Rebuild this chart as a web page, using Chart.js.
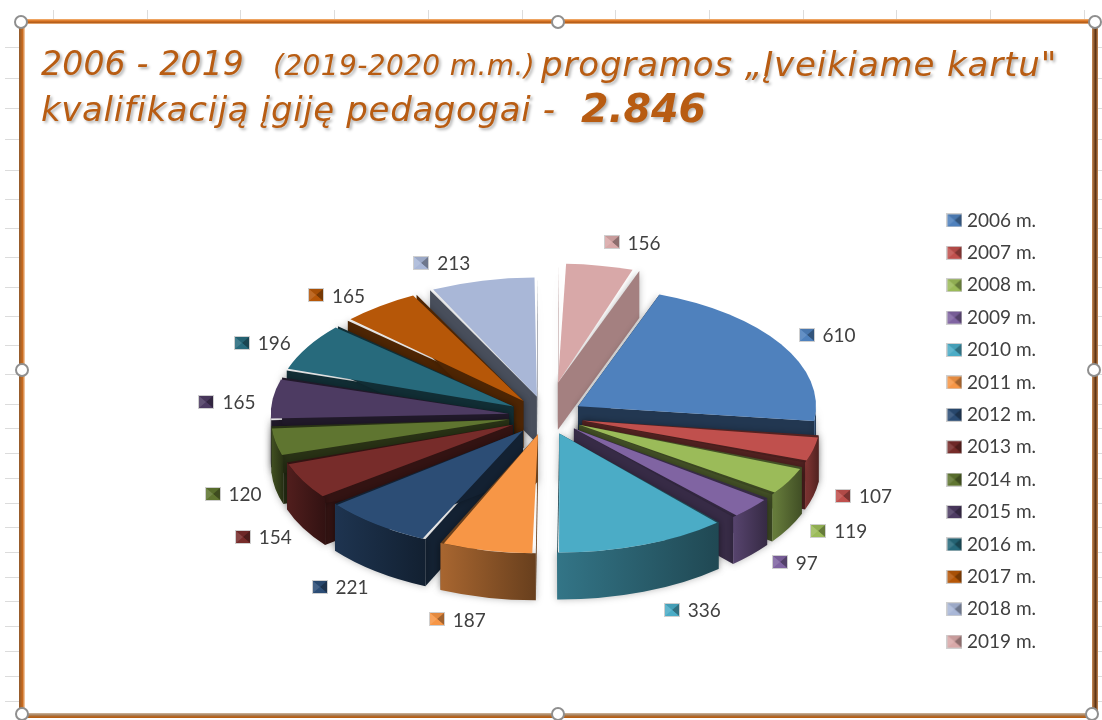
<!DOCTYPE html>
<html><head><meta charset="utf-8">
<style>
html,body{margin:0;padding:0;background:#fff;width:1102px;height:720px;overflow:hidden}
#stage{position:relative;width:1102px;height:720px;overflow:hidden}
canvas{position:absolute;left:0;top:0}
.t{position:absolute;white-space:pre;font-family:"DejaVu Sans";font-style:italic;color:#b85c12;text-shadow:2px 2px 3px rgba(0,0,0,.3);line-height:1}
.tick{position:absolute;background:#dcdcdc}
.edge{position:absolute}
.h{position:absolute;width:10px;height:10px;border:2.5px solid #8f8f8f;border-radius:50%;background:#fff}
</style></head><body>
<div id="stage">
<canvas id="c" width="1102" height="720"></canvas>
<div class="t" style="left:41px;top:47px;font-size:33px;letter-spacing:.2px">2006 - 2019</div>
<div class="t" style="left:273px;top:52px;font-size:28px;letter-spacing:.4px">(2019-2020 m.m.)</div>
<div class="t" style="left:541px;top:47px;font-size:34px;letter-spacing:.85px">programos „Įveikiame kartu"</div>
<div class="t" style="left:41px;top:92px;font-size:34px;letter-spacing:.65px">kvalifikaciją įgiję pedagogai -</div>
<div class="t" style="left:581px;top:89px;font-size:39.5px;font-weight:bold">2.846</div>
</div>
<script src="https://cdn.jsdelivr.net/npm/chart.js@4"></script>
<script>
const categories=["2006 m.","2007 m.","2008 m.","2009 m.","2010 m.","2011 m.","2012 m.","2013 m.","2014 m.","2015 m.","2016 m.","2017 m.","2018 m.","2019 m."];
const values=[610,107,119,97,336,187,221,154,120,165,196,165,213,156];
const colours=["#4f81bd","#c0504d","#9bbb59","#8064a2","#4bacc6","#f79646","#2c4d75","#772c2a","#5f7530","#4d3b62","#276a7c","#b65708","#a9b7d7","#d8a8a8"];
const explode=[150,150,150,150,150,150,150,150,150,150,150,150,160,270];
const labelNudge=[[-4,0],[-4,-4],[-1,-5],[3,-4],[16,2],[-43,5],[-35,2],[-30,1],[-29,2],[-32,5],[-36,5],[-43,3],[-54,-2],[11,-21]];

const stage=document.getElementById('stage');
function box(cls,css){const d=document.createElement('div');d.className=cls;d.style.cssText=css;stage.appendChild(d);}
for(let x=53;x<1090;x+=93.7)box('tick',`left:${Math.round(x)}px;top:10px;width:1px;height:10px`);
const rows=[47,78,108,139,170,199,228,257,287,316,345,374,404,428,453,478,503,527,552,577,601,626,651,676,701];
rows.forEach(y=>{box('tick',`left:5px;top:${y}px;width:14px;height:1px`);box('tick',`left:1096px;top:${y}px;width:6px;height:1px`);});
box('edge','left:20px;top:19px;width:1074px;height:5px;background:linear-gradient(#f5b679,#d9701c 40%,#b4601f 70%,#f7c08c)');
box('edge','left:19px;top:713px;width:1074px;height:5px;background:linear-gradient(#d0b8a0,#a8835f 40%,#b65e14 80%)');
box('edge','left:19px;top:22px;width:6px;height:692px;background:linear-gradient(90deg,#8f5a2e,#c86a1e 60%,#fbd9b8)');
box('edge','left:1092px;top:22px;width:6px;height:692px;background:linear-gradient(90deg,#c98a55,#5c3212 60%,#c98a55)');
[[21,22],[558,22],[1095,22],[22,370],[1094,370],[22,714],[558,714],[1092,714]].forEach(p=>box('h',`left:${p[0]-7.5}px;top:${p[1]-7.5}px`));

const squash=0.5, depth=47, lift=-15;
function rgb(h){return [1,3,5].map(i=>parseInt(h.substr(i,2),16));}
function shade(h,f){const c=rgb(h);return `rgb(${c.map(v=>Math.round(v*f)).join(',')})`;}
function tint(h,f){const c=rgb(h);return `rgb(${c.map(v=>Math.round(v+(255-v)*f)).join(',')})`;}
function icon(col){
  const c=document.createElement('canvas');c.width=16;c.height=14;const g=c.getContext('2d');
  g.fillStyle='#cfcfcf';g.fillRect(0,0,16,14);
  const x0=1,y0=1,x1=15,y1=13,mx=8,my=7;
  const tri=(a,b,d,e,f)=>{g.fillStyle=f;g.beginPath();g.moveTo(a,b);g.lineTo(d,e);g.lineTo(mx,my);g.fill();};
  g.fillStyle=col;g.fillRect(1,1,14,12);
  tri(x0,y0,x1,y0,shade(col,.92));tri(x1,y0,x1,y1,shade(col,.65));tri(x1,y1,x0,y1,col);tri(x0,y1,x0,y0,tint(col,.12));
  return c;
}
const icons=colours.map(icon);

function geom(arc,cy,base){
  const p=arc.getProps(['x','y','startAngle','endAngle']);
  const off=arc.options.offset/4, mid=(p.startAngle+p.endAngle)/2;
  const ax=p.x+Math.cos(mid)*off, ay=cy+lift+(p.y-cy+Math.sin(mid)*off)*squash;
  return {ax,ay,R:base,a:p.startAngle,b:p.endAngle,mid};
}
const pie3d={
  id:'pie3d',
  beforeDatasetsDraw(chart){
    const ctx=chart.ctx, meta=chart.getDatasetMeta(0), cy=(chart.chartArea.top+chart.chartArea.bottom)/2, base=chart.options.radius;
    // Chart.js widens an offset arc by offset/4*(1-sin(sweep)); compensate so all slices share one rim.
    meta.data.forEach(arc=>{
      const sweep=arc.endAngle-arc.startAngle;
      arc.outerRadius=base-arc.options.offset/4*(1-Math.sin(Math.min(Math.PI,sweep)));
    });
    const order=meta.data.map((arc,i)=>({i,g:geom(arc,cy,base)})).sort((u,v)=>Math.sin(u.g.mid)-Math.sin(v.g.mid));
    ctx.save();
    ctx.shadowColor='rgba(0,0,0,.28)';ctx.shadowBlur=7;
    order.forEach(({i,g})=>{
      const col=colours[i], wall=shade(col,i===13?.76:.43);
      [g.a,g.b].forEach(t=>{
        const rx=g.ax+g.R*Math.cos(t), ry=g.ay+g.R*squash*Math.sin(t);
        ctx.fillStyle=wall;ctx.beginPath();
        ctx.moveTo(g.ax,g.ay);ctx.lineTo(rx,ry);ctx.lineTo(rx,ry+depth);ctx.lineTo(g.ax,g.ay+depth);ctx.closePath();ctx.fill();
      });
      const ranges=[[0,Math.PI],[2*Math.PI,3*Math.PI],[-2*Math.PI,-Math.PI]];
      ranges.forEach(([lo,hi])=>{
        const u=Math.max(g.a,lo),v=Math.min(g.b,hi);
        if(v<=u)return;
        const xl=g.ax+g.R*Math.cos(v), xr=g.ax+g.R*Math.cos(u);
        const gr=ctx.createLinearGradient(xl,0,xr,0);
        gr.addColorStop(0,shade(col,.68));gr.addColorStop(1,shade(col,.42));
        ctx.fillStyle=gr;ctx.beginPath();
        ctx.ellipse(g.ax,g.ay,g.R,g.R*squash,0,u,v);
        ctx.ellipse(g.ax,g.ay+depth,g.R,g.R*squash,0,v,u,true);
        ctx.closePath();ctx.fill();
      });
    });
    ctx.restore();
    ctx.save();
    ctx.translate(0,cy+lift);ctx.scale(1,squash);ctx.translate(0,-cy);
  },
  afterDatasetsDraw(chart){
    const ctx=chart.ctx, meta=chart.getDatasetMeta(0), cy=(chart.chartArea.top+chart.chartArea.bottom)/2, base=chart.options.radius;
    ctx.restore();
    const cx=meta.data[0].x;
    ctx.save();
    ctx.font='19px Lato';ctx.fillStyle='#404040';ctx.textBaseline='middle';ctx.textAlign='left';
    meta.data.forEach((arc,i)=>{
      const g=geom(arc,cy,base);
      const sn=Math.cos(g.mid), up=Math.sin(g.mid);
      const x=cx+310*sn+labelNudge[i][0];
      const y=cy+lift+155*up+(up>0?depth:0)+labelNudge[i][1];
      ctx.drawImage(icons[i],Math.round(x-8),Math.round(y-7));
      ctx.fillText(String(values[i]),x+16,y+1);
    });
    ctx.restore();
  }
};
new Chart(document.getElementById('c'),{
  type:'pie',
  data:{labels:categories,datasets:[{data:values,backgroundColor:colours,borderWidth:0,offset:explode,clip:false}]},
  options:{
    responsive:false,animation:false,devicePixelRatio:1,rotation:20,radius:238,
    layout:{padding:{left:154,right:56,top:142,bottom:0}},
    plugins:{tooltip:{enabled:false},title:{display:false},
      legend:{position:'right',labels:{
        font:{family:'Lato',size:19},color:'#404040',padding:13.4,usePointStyle:true,pointStyleWidth:6,
        generateLabels(chart){
          return Chart.overrides.pie.plugins.legend.labels.generateLabels(chart).map((it,i)=>Object.assign(it,{pointStyle:icons[i]}));
        }}}}
  },
  plugins:[pie3d]
});
</script>
</body></html>
